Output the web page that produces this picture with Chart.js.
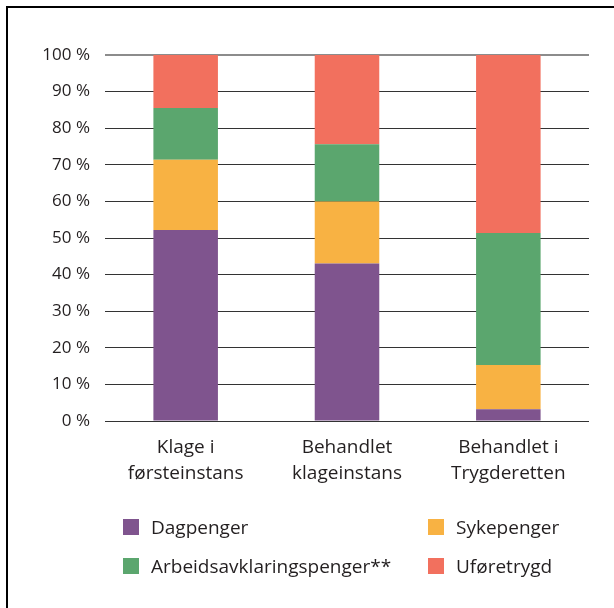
<!DOCTYPE html>
<html>
<head>
<meta charset="utf-8">
<script src="https://cdn.jsdelivr.net/npm/chart.js@4.4.1/dist/chart.umd.min.js"></script>
<style>
  html, body { margin: 0; padding: 0; background: #fff; }
  #wrap { position: relative; width: 614px; height: 608px; overflow: hidden; font-family: "Open Sans", sans-serif; }
  #frame { position: absolute; left: 6px; top: 6px; width: 700px; height: 700px; border-left: 2.5px solid #000; border-top: 2.5px solid #000; box-sizing: border-box; pointer-events: none; }
  #c { position: absolute; left: 0; top: 0; }
  .leg { position: absolute; font-size: 19px; color: #231f20; white-space: nowrap; line-height: 20px; }
  .leg span.box { position: absolute; left: 0; top: 2px; width: 16px; height: 16px; }
  .leg span.txt { position: absolute; left: 28px; top: 0; }
</style>
</head>
<body>
<div id="wrap">
  <canvas id="c" width="614" height="608"></canvas>
  <div id="frame"></div>
  <div id="legend"></div>
</div>
<script>
const categories = [["Klage i", "førsteinstans"], ["Behandlet", "klageinstans"], ["Behandlet i", "Trygderetten"]];
const seriesNames = ["Dagpenger", "Sykepenger", "Arbeidsavklaringspenger**", "Uføretrygd"];
const dagpenger = [52.2, 43.0, 3.2];
const sykepenger = [19.2, 17.0, 12.1];
const arbeidsavklaringspenger = [14.1, 15.6, 36.1];
const uforetrygd = [14.5, 24.4, 48.6];
const yTicks = [0, 10, 20, 30, 40, 50, 60, 70, 80, 90, 100];
const colors = ["#7f548e", "#f8b243", "#5ba66e", "#f2705e"];

const seriesValues = [dagpenger, sykepenger, arbeidsavklaringspenger, uforetrygd];

new Chart(document.getElementById('c'), {
  type: 'bar',
  data: {
    labels: categories,
    datasets: seriesNames.map((n, i) => ({
      label: n,
      data: seriesValues[i],
      backgroundColor: colors[i],
      borderWidth: 0,
      categoryPercentage: 1,
      barPercentage: 0.4
    }))
  },
  options: {
    responsive: false,
    animation: false,
    events: [],
    layout: { padding: { left: 0, right: 25, top: 55, bottom: 0 } },
    plugins: { legend: { display: false }, tooltip: { enabled: false } },
    scales: {
      x: {
        stacked: true,
        grid: { display: false, drawTicks: false },
        border: { display: false },
        ticks: { color: '#231f20', font: { family: 'Open Sans', size: 19, lineHeight: 1.38 }, padding: 13, maxRotation: 0, autoSkip: false },
        afterFit: s => { s.height = 187; }
      },
      y: {
        stacked: true,
        min: 0, max: 100,
        afterBuildTicks: s => { s.ticks = yTicks.map(v => ({ value: v })); },
        grid: { color: ctx => ctx.tick && ctx.tick.value === 100 ? '#8c8c8c' : '#333', lineWidth: ctx => ctx.tick && ctx.tick.value === 100 ? 2 : 1, drawTicks: false },
        border: { display: false },
        ticks: { color: '#231f20', font: { family: 'Open Sans', size: 17 }, padding: 15, callback: v => v + ' %' },
        afterFit: s => { s.width = 105; }
      }
    }
  }
});

const legPos = [[123, 517], [428, 517], [123, 556], [428, 556]];
const legend = document.getElementById('legend');
seriesNames.forEach((n, i) => {
  const d = document.createElement('div');
  d.className = 'leg';
  d.style.left = legPos[i][0] + 'px';
  d.style.top = legPos[i][1] + 'px';
  d.innerHTML = '<span class="box" style="background:' + colors[i] + '"></span><span class="txt"></span>';
  d.querySelector('.txt').textContent = n;
  legend.appendChild(d);
});
</script>
</body>
</html>
